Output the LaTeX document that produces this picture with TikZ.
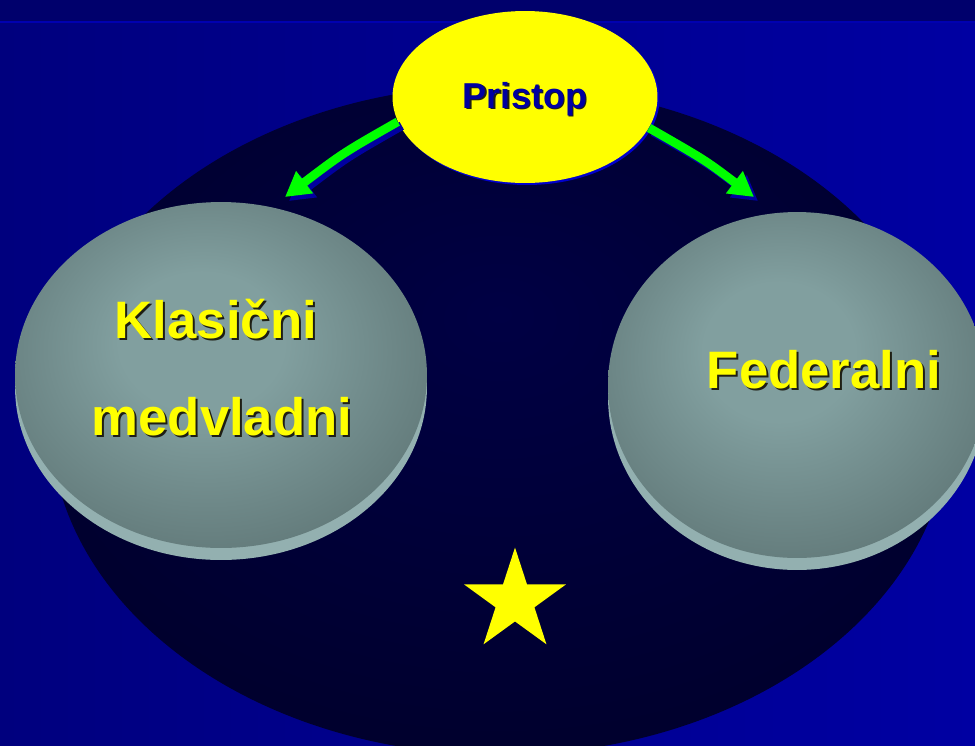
\documentclass[tikz,border=0pt]{standalone}
\usepackage{fontspec}
\setmainfont{Liberation Sans}
\usepackage{tikz}
\usetikzlibrary{arrows.meta, shapes.geometric}
\definecolor{bgleft}{HTML}{00007E}
\definecolor{bgright}{HTML}{0000A2}
\definecolor{topband}{HTML}{00006C}
\definecolor{topline}{HTML}{0000B0}
\definecolor{stagein}{HTML}{000044}
\definecolor{stagemid}{HTML}{00002C}
\definecolor{stageout}{HTML}{00000A}
\definecolor{discin}{HTML}{819F9F}
\definecolor{discout}{HTML}{425353}
\definecolor{discrim}{HTML}{93B0B0}
\definecolor{sunny}{HTML}{FFFF00}
\definecolor{sunnyedge}{HTML}{0000CC}
\definecolor{pristoptext}{HTML}{0000A0}
\definecolor{arrowgreen}{HTML}{00FF00}
\definecolor{arrowshade}{HTML}{0000A0}
\definecolor{textshade}{HTML}{1E1E14}
\pgfdeclareradialshading{stageshade}{\pgfpoint{0bp}{8bp}}{color(0bp)=(stagein); color(30bp)=(stagemid); color(50bp)=(stageout)}
\pgfdeclareradialshading{discshade}{\pgfpoint{-3bp}{6bp}}{color(0bp)=(discin); color(10bp)=(discin); color(50bp)=(discout)}

\begin{document}
\begin{tikzpicture}[
    x=0.02cm, y=-0.02cm,
    >={Triangle[length=14pt, width=15pt]},
    stage/.style={ellipse, inner sep=0pt, minimum width=18cm, minimum height=13.4cm, shade, shading=stageshade},
    disc/.style={ellipse, inner sep=0pt, minimum width=#1, minimum height=6.92cm, shade, shading=discshade},
    rim/.style={ellipse, inner sep=0pt, minimum width=#1, minimum height=6.92cm, fill=discrim},
    disctext/.style={font=\fontsize{30}{36}\selectfont\bfseries, text=sunny, anchor=base},
    shadetext/.style={disctext, text=textshade},
    prtext/.style={font=\fontsize{20.5}{24}\selectfont\bfseries, text=#1, anchor=base},
    arrowline/.style={->, line width=5pt, arrowgreen},
    arrowshadow/.style={->, line width=5pt, arrowshade, transform canvas={shift={(4,4)}}},
]
    \useasboundingbox (0,0) rectangle (975,745);
    \clip (0,0) rectangle (975,745);

    % Background
    \fill[left color=bgleft, right color=bgright] (0,0) rectangle (975,745);
    \fill[topband] (0,0) rectangle (975,21);
    \fill[topline] (0,21) rectangle (975,23);
    \node[stage] (stage) at (500,420) {};

    % Klasicni medvladni
    \node[rim=8.24cm] (klasrim) at (221,387) {};
    \node[disc=8.24cm] (klasdisc) at (221,375) {};
    \node[shadetext] (klasshade) at (218,340) {Klasični};
    \node[disctext] (klas) at (216,338) {Klasični};
    \node[shadetext] (medshade) at (224,437) {medvladni};
    \node[disctext] (med) at (222,435) {medvladni};

    % Federalni
    \node[rim=7.56cm] (fedrim) at (797,397) {};
    \node[disc=7.56cm] (feddisc) at (797,385) {};
    \node[shadetext] (fedshade) at (826,390) {Federalni};
    \node[disctext] (fed) at (824,388) {Federalni};

    % Pristop
    \node[ellipse, inner sep=0pt, minimum width=5.3cm, minimum height=3.44cm, fill=sunnyedge] (prshade) at (527,99) {};
    \node[ellipse, inner sep=0pt, minimum width=5.3cm, minimum height=3.44cm, fill=sunny] (pr) at (525,97) {};
    \node[prtext=textshade] (prshadetext) at (526.5,109.5) {Pristop};
    \node[prtext=pristoptext] (prlabel) at (525,108) {Pristop};

    % Arrows
    \coordinate (tipL) at (285,197);
    \coordinate (tipR) at (754,197);
    \draw[arrowshadow] (pr.191) .. controls (343,153) .. (tipL);
    \draw[arrowshadow] (pr.346) .. controls (705,160) .. (tipR);
    \draw[arrowline] (pr.191) .. controls (343,153) .. (tipL);
    \draw[arrowline] (pr.346) .. controls (705,160) .. (tipR);

    % Star
    \node[star, star points=5, star point ratio=2.618, minimum size=2.14cm, inner sep=0pt, fill=sunny] (eustar) at (515,601) {};
\end{tikzpicture}
\end{document}
